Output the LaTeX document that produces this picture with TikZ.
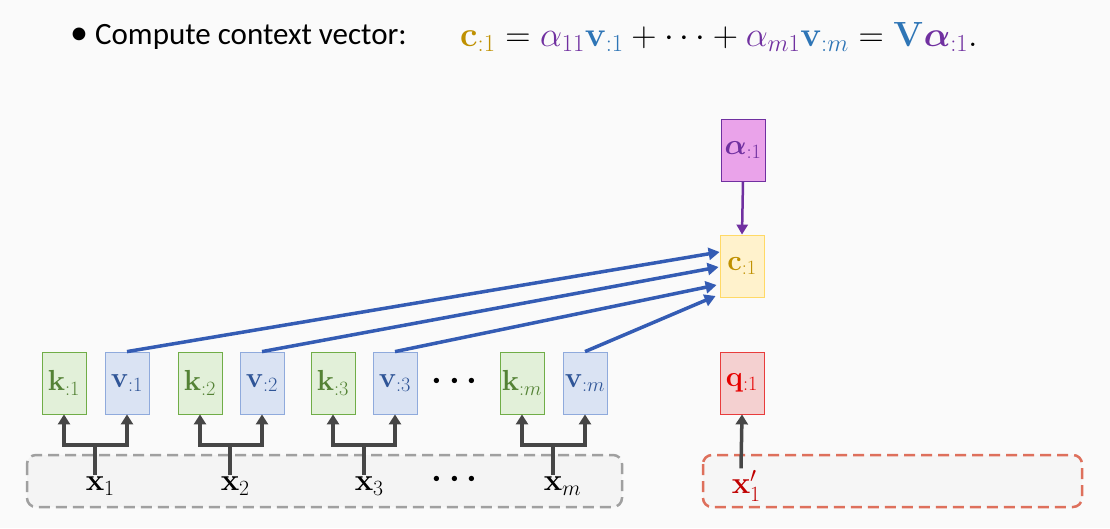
\RequirePackage{fix-cm}
\documentclass[tikz,border=0pt]{standalone}
\usepackage{amssymb,amsmath,mathtools,bm}
\usepackage[no-math]{fontspec}
\setmainfont{Carlito}
\usepackage{tikz}
\usetikzlibrary{arrows.meta,positioning}
\definecolor{PageGray}{RGB}{250,250,250}
\definecolor{KeyFill}{RGB}{226,240,217}
\definecolor{KeyLine}{RGB}{112,173,71}
\definecolor{KeyText}{RGB}{84,130,53}
\definecolor{ValFill}{RGB}{218,227,243}
\definecolor{ValLine}{RGB}{143,170,220}
\definecolor{ValText}{RGB}{47,85,151}
\definecolor{CtxFill}{RGB}{255,242,204}
\definecolor{CtxLine}{RGB}{255,217,102}
\definecolor{CtxText}{RGB}{191,144,0}
\definecolor{WgtFill}{RGB}{234,163,234}
\definecolor{WgtText}{RGB}{112,48,160}
\definecolor{QryFill}{RGB}{244,208,208}
\definecolor{QryLine}{RGB}{232,60,60}
\definecolor{QryText}{RGB}{230,0,0}
\definecolor{InText}{RGB}{192,0,0}
\definecolor{FormBlue}{RGB}{46,117,182}
\definecolor{LinkBlue}{RGB}{52,92,180}
\definecolor{ForkGray}{RGB}{70,70,70}
\definecolor{DashGray}{RGB}{160,160,160}
\definecolor{DashRed}{RGB}{222,112,92}

\begin{document}
\begin{tikzpicture}[x=1pt,y=-1pt,
  vecbox/.style={draw,line width=0.8pt,minimum width=44pt,minimum height=62pt,inner sep=0pt,
    font=\fontsize{29}{32}\selectfont},
  inlabel/.style={inner sep=2pt,font=\fontsize{31}{34}\selectfont},
  fork/.style={draw=ForkGray,line width=3.5pt,-{Triangle[width=12pt,length=10pt]}},
  link/.style={draw=LinkBlue,line width=3.5pt,-{Triangle[width=12pt,length=11pt]}},
  frame/.style={line width=2.5pt,dash pattern=on 11pt off 6pt,rounded corners=9pt}]
\fill[PageGray] (0,0) rectangle (1110,528);
\useasboundingbox (0,0) rectangle (1110,528);

% title line
\node[anchor=west,inner sep=0pt,font=\fontsize{31}{36}\selectfont] (title) at (70,37) {{\fontsize{36}{36}\selectfont\textbullet}\ Compute context vector:};
\node[anchor=west,inner sep=0pt,font=\fontsize{35}{40}\selectfont] (formula) at (460,37)
  {$\color{CtxText}\mathbf{c}_{:1}\color{black} = \color{WgtText}\alpha_{11}\color{FormBlue}\mathbf{v}_{:1}\color{black} + \cdots + \color{WgtText}\alpha_{m1}\color{FormBlue}\mathbf{v}_{:m}\color{black} = \color{FormBlue}\mathbf{V}\color{WgtText}\bm{\alpha}_{:1}\color{black}.$};

% input frames
\draw[frame,draw=DashGray,fill=gray!9] (27,455) rectangle (622,507);
\draw[frame,draw=DashRed,fill=gray!7] (703,455) rectangle (1082,507);

% keys and values
\node[vecbox,fill=KeyFill,draw=KeyLine,text=KeyText] (k1) at (64,383) {$\mathbf{k}_{:1}$};
\node[vecbox,fill=ValFill,draw=ValLine,text=ValText] (v1) at (127,383) {$\mathbf{v}_{:1}$};
\node[vecbox,fill=KeyFill,draw=KeyLine,text=KeyText] (k2) at (200,383) {$\mathbf{k}_{:2}$};
\node[vecbox,fill=ValFill,draw=ValLine,text=ValText] (v2) at (262,383) {$\mathbf{v}_{:2}$};
\node[vecbox,fill=KeyFill,draw=KeyLine,text=KeyText] (k3) at (333,383) {$\mathbf{k}_{:3}$};
\node[vecbox,fill=ValFill,draw=ValLine,text=ValText] (v3) at (395,383) {$\mathbf{v}_{:3}$};
\node[font=\fontsize{34}{36}\selectfont] (kvdots) at (458,381) {$\bm{\cdots}$};
\node[vecbox,fill=KeyFill,draw=KeyLine,text=KeyText] (km) at (522,383) {$\mathbf{k}_{:m}$};
\node[vecbox,fill=ValFill,draw=ValLine,text=ValText] (vm) at (585,383) {$\mathbf{v}_{:m}$};

% query, context, weights
\node[vecbox,fill=QryFill,draw=QryLine,text=QryText] (q) at (742,383) {$\mathbf{q}_{:1}$};
\node[vecbox,fill=CtxFill,draw=CtxLine,text=CtxText] (c) at (742,266) {$\mathbf{c}_{:1}$};
\node[vecbox,fill=WgtFill,draw=WgtText,text=WgtText] (alpha) at (743,150) {$\bm{\alpha}_{:1}$};

% inputs
\node[inlabel] (x1) at (95,486) {$\mathbf{x}\mathrlap{_1}$};
\node[inlabel] (x2) at (230,486) {$\mathbf{x}\mathrlap{_2}$};
\node[inlabel] (x3) at (364,486) {$\mathbf{x}\mathrlap{_3}$};
\node[font=\fontsize{34}{36}\selectfont] (xdots) at (458,479) {$\bm{\cdots}$};
\node[inlabel] (xm) at (553,486) {$\mathbf{x}\mathrlap{_m}$};
\node[inlabel,text=InText] (xq) at (741,486) {$\mathbf{x}\mathrlap{'_1}$};

% forks from inputs
\draw[fork] (x1.north) -- (x1.north |- 0,445) -| (k1.south);
\draw[fork] (x1.north |- 0,445) -| (v1.south);
\draw[fork] (x2.north) -- (x2.north |- 0,445) -| (k2.south);
\draw[fork] (x2.north |- 0,445) -| (v2.south);
\draw[fork] (x3.north) -- (x3.north |- 0,445) -| (k3.south);
\draw[fork] (x3.north |- 0,445) -| (v3.south);
\draw[fork] (xm.north) -- (xm.north |- 0,445) -| (km.south);
\draw[fork] (xm.north |- 0,445) -| (vm.south);
\draw[fork] (xq.north) -- (q.south);

% values into context
\draw[link] (v1.north) -- ([yshift=14pt]c.west);
\draw[link] (v2.north) -- ([xshift=-1pt,yshift=-1pt]c.west);
\draw[link] (v3.north) -- ([xshift=-3pt,yshift=-19pt]c.west);
\draw[link] (vm.north) -- ([xshift=-4pt,yshift=-30pt]c.west);
\draw[draw=WgtText,line width=2.5pt,-{Triangle[width=11pt,length=10pt]}] (alpha.south) -- (c.north);
\end{tikzpicture}
\end{document}
